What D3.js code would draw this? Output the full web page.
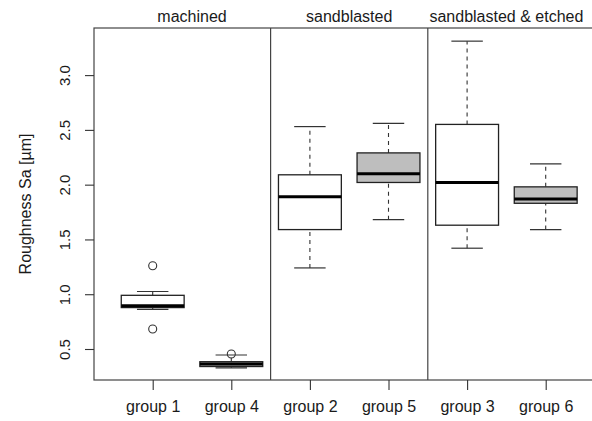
<!DOCTYPE html>
<html>
<head>
<meta charset="utf-8">
<script src="https://cdn.jsdelivr.net/npm/d3@7"></script>
<style>
  body { margin: 0; background: #fff; }
  text { font-family: "Liberation Sans", Arial, sans-serif; fill: #1a1a1a; }
</style>
</head>
<body>
<script>
// Data
const groups = ["group 1", "group 4", "group 2", "group 5", "group 3", "group 6"];
const treatments = ["machined", "sandblasted", "sandblasted & etched"];
const fills = ["#ffffff", "#bebebe", "#ffffff", "#bebebe", "#ffffff", "#bebebe"];
const lowWhisker = [0.862, 0.328, 1.24, 1.68, 1.42, 1.59];
const q1 = [0.878, 0.340, 1.59, 2.02, 1.63, 1.83];
const median = [0.895, 0.364, 1.89, 2.10, 2.02, 1.87];
const q3 = [0.990, 0.384, 2.09, 2.29, 2.55, 1.98];
const highWhisker = [1.025, 0.445, 2.53, 2.56, 3.31, 2.19];
const outliers = [[1.26, 0.682], [0.455], [], [], [], []];
const yTicks = [0.5, 1.0, 1.5, 2.0, 2.5, 3.0];

let width = 592,
    height = 421;

let margin = { top: 28, bottom: 380, left: 94, right: 600 };

let svg = d3.select('body')
    .append('svg')
    .attr('width', width)
    .attr('height', height);

// scales: boxes sit at positions 1..6
let xscale = d3.scaleLinear()
    .domain([1, 6])
    .range([152.7, 545.7]);

let yscale = d3.scaleLinear()
    .domain([0.217, 3.43])
    .range([margin.bottom, margin.top]);

const unit = xscale(2) - xscale(1);
const boxWidth = unit * 0.8;

// frame
svg.append('rect')
    .attr('x', margin.left)
    .attr('y', margin.top)
    .attr('width', margin.right - margin.left)
    .attr('height', margin.bottom - margin.top)
    .attr('fill', 'none')
    .attr('stroke', '#444')
    .attr('stroke-width', 1.2);

// dividers between treatments
[2.5, 4.5].forEach(p => {
    svg.append('line')
        .attr('x1', xscale(p)).attr('x2', xscale(p))
        .attr('y1', margin.top).attr('y2', margin.bottom)
        .attr('stroke', '#444')
        .attr('stroke-width', 1.2);
});

// y axis
let yaxis = svg.append('g')
    .attr('transform', `translate(${margin.left},0)`)
    .call(d3.axisLeft(yscale).tickValues(yTicks).tickSize(9).tickFormat(d3.format('.1f')));
yaxis.select('.domain').remove();
yaxis.selectAll('line').attr('stroke', '#333').attr('stroke-width', 1.1);
yaxis.selectAll('text')
    .attr('transform', 'translate(-29,0) rotate(-90)')
    .attr('x', 0).attr('y', 0).attr('dy', '0.35em')
    .attr('text-anchor', 'middle')
    .style('font-size', '15px')
    .style('font-family', '"Liberation Sans", Arial, sans-serif')
    .attr('fill', '#1a1a1a');

// x axis
let xaxis = svg.append('g')
    .attr('transform', `translate(0,${margin.bottom})`)
    .call(d3.axisBottom(xscale).tickValues([1, 2, 3, 4, 5, 6]).tickSize(10).tickFormat((d, i) => groups[i]));
xaxis.select('.domain').remove();
xaxis.selectAll('line').attr('stroke', '#333').attr('stroke-width', 1.1);
xaxis.selectAll('text')
    .attr('y', 26)
    .attr('dy', '0.35em')
    .style('font-size', '16px')
    .style('font-family', '"Liberation Sans", Arial, sans-serif')
    .attr('fill', '#1a1a1a');

// y label
svg.append('text')
    .attr('transform', `translate(25,${(margin.top + margin.bottom) / 2}) rotate(-90)`)
    .attr('text-anchor', 'middle')
    .attr('dy', '0.35em')
    .style('font-size', '16px')
    .text('Roughness Sa [µm]');

// treatment titles
treatments.forEach((t, i) => {
    svg.append('text')
        .attr('x', xscale(2 * i + 1.5))
        .attr('y', 22)
        .attr('text-anchor', 'middle')
        .style('font-size', '16px')
        .text(t);
});

// boxes
groups.forEach((g, i) => {
    const x = xscale(i + 1);

    // whiskers
    [[lowWhisker[i], q1[i]], [q3[i], highWhisker[i]]].forEach(([a, b]) => {
        svg.append('line')
            .attr('x1', x).attr('x2', x)
            .attr('y1', yscale(a)).attr('y2', yscale(b))
            .attr('stroke', '#333')
            .attr('stroke-width', 1.1)
            .attr('stroke-dasharray', '4,4');
    });
    [lowWhisker[i], highWhisker[i]].forEach(v => {
        svg.append('line')
            .attr('x1', x - boxWidth / 4).attr('x2', x + boxWidth / 4)
            .attr('y1', yscale(v)).attr('y2', yscale(v))
            .attr('stroke', '#333')
            .attr('stroke-width', 1.2);
    });

    svg.append('rect')
        .attr('x', x - boxWidth / 2)
        .attr('y', yscale(q3[i]))
        .attr('width', boxWidth)
        .attr('height', yscale(q1[i]) - yscale(q3[i]))
        .attr('fill', fills[i])
        .attr('stroke', '#222')
        .attr('stroke-width', 1.3);

    svg.append('line')
        .attr('x1', x - boxWidth / 2).attr('x2', x + boxWidth / 2)
        .attr('y1', yscale(median[i])).attr('y2', yscale(median[i]))
        .attr('stroke', '#000')
        .attr('stroke-width', 3);

    outliers[i].forEach(v => {
        svg.append('circle')
            .attr('cx', x)
            .attr('cy', yscale(v))
            .attr('r', 4)
            .attr('fill', 'none')
            .attr('stroke', '#333')
            .attr('stroke-width', 1.1);
    });
});
</script>
</body>
</html>
